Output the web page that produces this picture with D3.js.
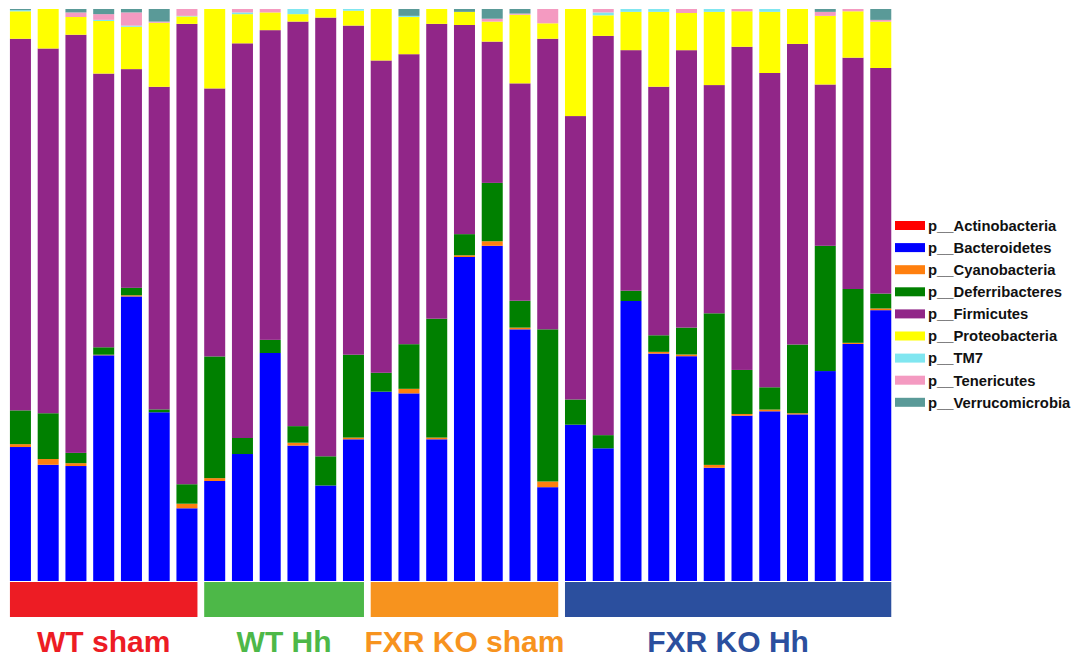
<!DOCTYPE html>
<html>
<head>
<meta charset="utf-8">
<script src="https://cdn.jsdelivr.net/npm/d3@7"></script>
<style>
  body { margin: 0; background: #fff; }
  svg { display: block; font-family: "Liberation Sans", Arial, sans-serif; }
</style>
</head>
<body>
<div id="chart"></div>
<script>
// relative abundance (%) per sample
var groups = ["WT sham", "WT Hh", "FXR KO sham", "FXR KO Hh"];
var groupSizes = [7, 6, 7, 12];
var groupColors = ["#ED1C24", "#4DB848", "#F7931E", "#2B4F9E"];

var phyla = ["p__Actinobacteria", "p__Bacteroidetes", "p__Cyanobacteria", "p__Deferribacteres",
  "p__Firmicutes", "p__Proteobacteria", "p__TM7", "p__Tenericutes", "p__Verrucomicrobia"];
var phylaColors = ["#FF0000", "#0000FF", "#FF7F0E", "#008000", "#912688", "#FFFF00", "#80E6F0", "#F49AC1", "#5A9A98"];

var actinobacteria = [0,0,0,0,0,0,0, 0,0,0,0,0,0, 0,0,0,0,0,0,0, 0,0,0,0,0,0,0,0,0,0,0,0];
var bacteroidetes = [23.4,20.3,20.1,39.5,49.7,29.5,12.7, 17.5,22.2,39.9,23.7,16.7,24.8,
  33.1,32.8,24.8,56.7,58.6,44.0,16.4, 27.3,23.2,49.0,39.8,39.3,19.8,28.9,29.7,29.1,36.7,41.4,47.3];
var cyanobacteria = [0.5,1.0,0.5,0.1,0.2,0,0.8, 0.5,0,0,0.5,0,0.3,
  0,0.8,0.3,0.3,0.8,0.3,1.0, 0,0,0,0.3,0.3,0.5,0.3,0.3,0.2,0,0.2,0.3];
var deferribacteres = [5.9,8.0,1.8,1.3,1.3,0.5,3.4, 21.3,2.8,2.3,2.9,5.1,14.5,
  3.3,7.8,20.8,3.7,10.2,4.7,26.6, 4.4,2.3,1.8,2.9,4.7,26.5,7.7,3.9,12.0,21.9,9.4,2.6];
var firmicutes = [64.9,63.7,73.1,47.9,38.2,56.4,80.4, 46.9,69.0,54.2,70.8,76.7,57.6,
  54.6,50.7,51.6,36.6,24.7,38.0,50.8, 49.5,69.8,42.1,43.5,48.5,39.9,56.5,55.0,52.5,28.2,40.4,39.4];
var proteobacteria = [4.8,6.9,3.1,9.2,7.4,11.2,1.3, 13.9,5.1,3.1,1.3,1.5,2.6,
  9.0,6.5,2.6,2.3,3.5,12.0,2.7, 18.7,3.6,6.7,13.1,6.5,12.8,6.2,10.7,6.1,12.0,8.1,8.1];
var tm7 = [0.2,0,0,0.2,0.2,0,0.1, 0,0.3,0,0.9,0,0.3,
  0,0.2,0,0,0,0,0, 0,0.5,0.5,0.5,0,0.5,0,0.5,0,0,0,0];
var tenericutes = [0,0,0.8,1.0,2.3,0.2,1.2, 0,0.6,0.6,0,0,0,
  0,0,0,0,0.5,0.2,2.5, 0,0.6,0,0,0.7,0,0.4,0,0,0.7,0.4,0.3];
var verrucomicrobia = [0.2,0,0.6,0.9,0.6,2.2,0, 0,0,0,0,0,0,
  0,1.2,0,0.5,1.7,0.8,0, 0,0,0,0,0,0,0,0,0,0.5,0,1.9];

var series = [actinobacteria, bacteroidetes, cyanobacteria, deferribacteres, firmicutes,
  proteobacteria, tm7, tenericutes, verrucomicrobia];

var width = 1076, height = 657;

// build one row per sample
var samples = [];
groups.forEach(function(g, gi) {
  for (var k = 0; k < groupSizes[gi]; k++) {
    samples.push({ id: g + " " + (k + 1), group: g });
  }
});
samples.forEach(function(s, i) {
  phyla.forEach(function(p, j) { s[p] = series[j][i]; });
});

var svg = d3.select("#chart").append("svg")
  .attr("width", width)
  .attr("height", height);

var xScale = d3.scaleBand()
  .domain(samples.map(d => d.id))
  .range([6.6, 894.6])
  .paddingInner(0.243)
  .paddingOuter(0.12);

var yScale = d3.scaleLinear()
  .domain([0, 1])
  .range([581, 9]);

var color = d3.scaleOrdinal().domain(phyla).range(phylaColors);

var stacked = d3.stack()
  .keys(phyla)
  .offset(d3.stackOffsetExpand)(samples);

svg.append("g").selectAll("g")
  .data(stacked)
  .enter()
  .append("g")
  .attr("fill", d => color(d.key))
  .selectAll("rect")
  .data(d => d)
  .enter()
  .append("rect")
  .attr("x", d => xScale(d.data.id))
  .attr("y", d => yScale(d[1]))
  .attr("width", xScale.bandwidth())
  .attr("height", d => Math.max(0, yScale(d[0]) - yScale(d[1])));

// group bars + labels under the chart
var groupColor = d3.scaleOrdinal().domain(groups).range(groupColors);
var groupSpans = groups.map(function(g) {
  var ids = samples.filter(s => s.group === g).map(s => s.id);
  return { group: g, x0: xScale(ids[0]), x1: xScale(ids[ids.length - 1]) + xScale.bandwidth() };
});

svg.append("g").selectAll("rect")
  .data(groupSpans)
  .enter()
  .append("rect")
  .attr("x", d => d.x0)
  .attr("y", 582)
  .attr("width", d => d.x1 - d.x0)
  .attr("height", 35)
  .attr("fill", d => groupColor(d.group));

svg.append("g").selectAll("text")
  .data(groupSpans)
  .enter()
  .append("text")
  .attr("x", d => (d.x0 + d.x1) / 2)
  .attr("y", 652)
  .attr("text-anchor", "middle")
  .attr("font-size", 30)
  .attr("font-weight", "bold")
  .attr("fill", d => groupColor(d.group))
  .text(d => d.group);

// legend
var legend = svg.append("g").attr("transform", "translate(895, 225.5)");
var rows = legend.selectAll("g")
  .data(phyla)
  .enter()
  .append("g")
  .attr("transform", (d, i) => "translate(0," + (i * 22.1) + ")");

rows.append("rect")
  .attr("x", 0)
  .attr("y", -4.5)
  .attr("width", 30)
  .attr("height", 9)
  .attr("fill", d => color(d));

rows.append("text")
  .attr("x", 33)
  .attr("y", 5.3)
  .attr("font-size", 14.8)
  .attr("font-weight", "bold")
  .attr("fill", "#111")
  .text(d => d);
</script>
</body>
</html>
